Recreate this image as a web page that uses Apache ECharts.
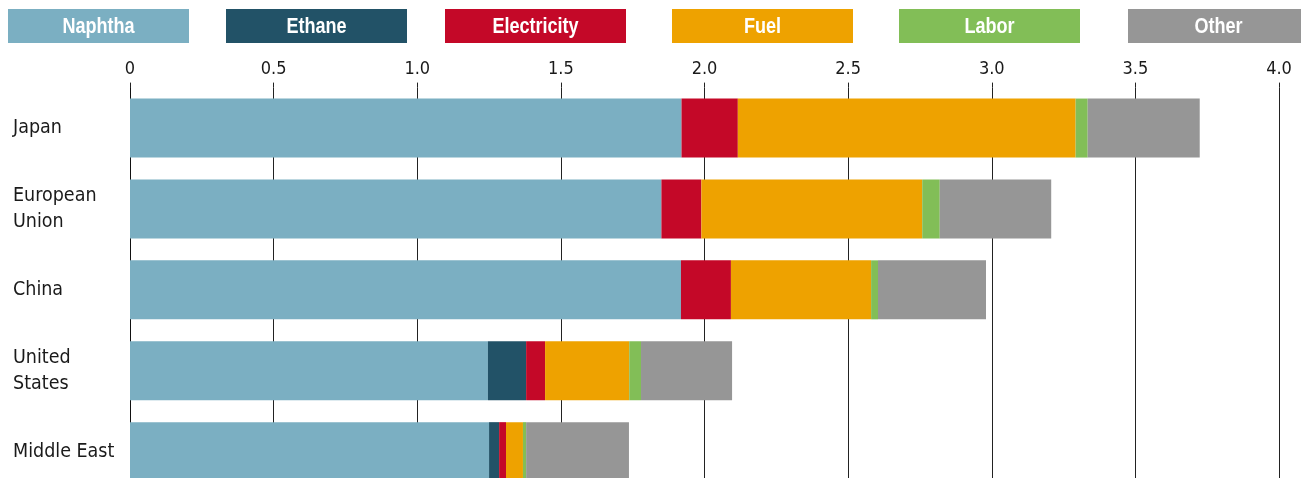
<!DOCTYPE html>
<html>
<head>
<meta charset="utf-8">
<title>Cost breakdown by region</title>
<script src="https://cdn.jsdelivr.net/npm/echarts@6/dist/echarts.min.js"></script>
<style>
  html, body { margin: 0; padding: 0; background: #ffffff; }
  #chart { width: 1301px; height: 478px; }
</style>
</head>
<body>
<div id="chart"></div>
<script>
// Regions, top to bottom
const regions = ['Japan', 'European\nUnion', 'China', 'United\nStates', 'Middle East'];

// Cost components (stacked left to right)
const components = ['Naphtha', 'Ethane', 'Electricity', 'Fuel', 'Labor', 'Other'];

// Values per component, one entry per region
const naphtha     = [1.920, 1.850, 1.918, 1.246, 1.250];
const ethane      = [0.000, 0.000, 0.000, 0.133, 0.035];
const electricity = [0.196, 0.139, 0.174, 0.066, 0.024];
const fuel        = [1.176, 0.769, 0.488, 0.293, 0.059];
const labor       = [0.042, 0.061, 0.024, 0.041, 0.011];
const other       = [0.390, 0.388, 0.376, 0.317, 0.358];

// Value axis ticks
const tickValues = [0, 0.5, 1.0, 1.5, 2.0, 2.5, 3.0, 3.5, 4.0];
const tickLabels = ['0', '0.5', '1.0', '1.5', '2.0', '2.5', '3.0', '3.5', '4.0'];

const seriesValues = [naphtha, ethane, electricity, fuel, labor, other];
const palette = ['#7bafc2', '#225267', '#c40828', '#eea200', '#82be57', '#969696'];

const FONT = "'DejaVu Sans Condensed', 'Liberation Sans Narrow', sans-serif";

// Legend boxes across the top (bold text, horizontally condensed)
const legendLeft = [8, 226, 445, 672, 899, 1128];
const legendBoxW = 181, legendBoxH = 34, legendTop = 9;
const legendGraphics = components.map((name, i) => ({
  type: 'group',
  x: legendLeft[i],
  y: legendTop,
  silent: true,
  children: [
    { type: 'rect', shape: { x: 0, y: 0, width: legendBoxW, height: legendBoxH },
      style: { fill: palette[i] } },
    { type: 'text', x: legendBoxW / 2, y: legendBoxH / 2 + 1, scaleX: 0.82,
      style: { text: name, fill: '#ffffff', align: 'center', verticalAlign: 'middle',
               fontSize: 22, fontWeight: 'bold', fontFamily: "'Liberation Sans', Arial, sans-serif" } }
  ]
}));

const chart = echarts.init(document.getElementById('chart'), null, { renderer: 'canvas' });

chart.setOption({
  animation: false,
  backgroundColor: '#ffffff',
  graphic: legendGraphics,
  // The last row runs past the bottom edge, so the grid is allowed to extend beyond the canvas
  grid: { left: 130, width: 1149, top: 87.6, height: 404.5, containLabel: false, outerBoundsMode: 'none' },
  xAxis: {
    type: 'value',
    position: 'top',
    min: 0,
    max: 4,
    interval: 0.5,
    axisLine: { show: false },
    axisTick: { show: true, length: 5, lineStyle: { color: '#222', width: 1 } },
    axisLabel: {
      margin: 9,
      fontSize: 18,
      color: '#1a1a1a',
      fontFamily: FONT,
      formatter: v => {
        const k = tickValues.findIndex(t => Math.abs(t - v) < 1e-9);
        return k >= 0 ? tickLabels[k] : '';
      }
    },
    splitLine: { show: true, lineStyle: { color: '#222', width: 1 } }
  },
  yAxis: {
    type: 'category',
    data: regions,
    inverse: true,
    axisLine: { show: true, lineStyle: { color: '#111', width: 1 } },
    axisTick: { show: false },
    axisLabel: {
      align: 'left',
      margin: 117,
      fontSize: 19.5,
      lineHeight: 26,
      color: '#1a1a1a',
      fontFamily: FONT
    },
    splitLine: { show: false }
  },
  series: components.map((name, i) => ({
    name: name,
    type: 'bar',
    stack: 'cost',
    barWidth: 59,
    data: seriesValues[i],
    itemStyle: { color: palette[i] },
    emphasis: { disabled: true }
  }))
});
</script>
</body>
</html>
